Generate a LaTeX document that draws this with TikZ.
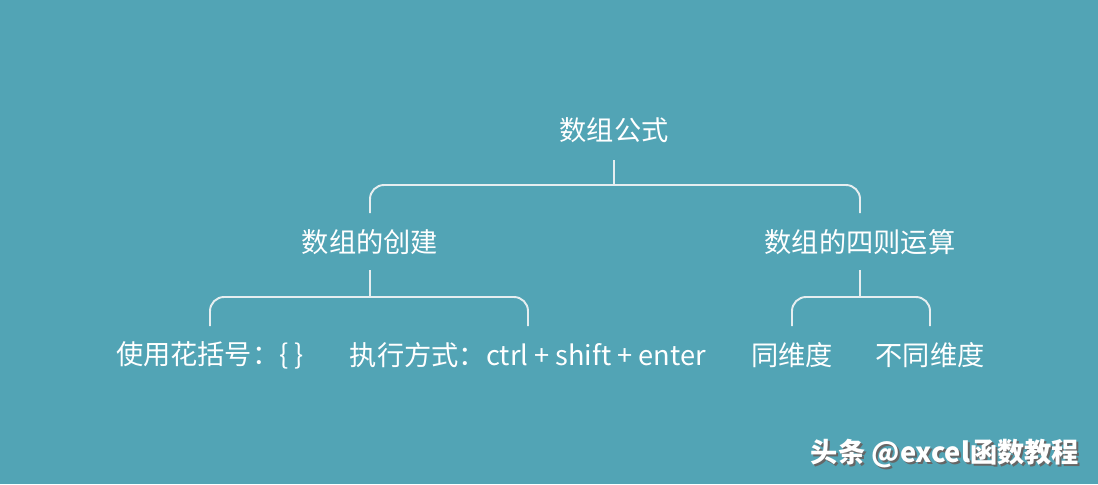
\documentclass[tikz,border=0pt]{standalone}
\usepackage{fontspec}
\setmainfont{Noto Sans CJK SC}
\definecolor{bg}{HTML}{52A4B5}
\definecolor{ln}{HTML}{E6EEF0}
\begin{document}
\begin{tikzpicture}[x=0.02cm,y=-0.02cm,
  lbl/.style={text=white,font=\fontsize{15.5pt}{17pt}\selectfont,inner sep=0pt},
  conn/.style={draw=ln,line width=1.1pt,rounded corners=8pt}]
\fill[bg] (0,0) rectangle (1098,484);
\useasboundingbox (0,0) rectangle (1098,484);
\node[lbl] (root) at (614,130) {数组公式};
\node[lbl] (a) at (370,242) {数组的创建};
\node[lbl] (b) at (860,242) {数组的四则运算};
\node[lbl] (a1) at (210,355) {使用花括号：\{ \}};
\node[lbl] (a2) at (528,355) {执行方式：ctrl + shift + enter};
\node[lbl] (b1) at (792,355) {同维度};
\node[lbl] (b2) at (930,355) {不同维度};
\coordinate (rj) at (614,185);
\coordinate (aj) at (370,297);
\coordinate (bj) at (860,297);
\draw[conn] (614,160) -- (rj);
\draw[conn] (370,213) -- (370,185) -- (860,185) -- (860,213);
\draw[conn] (a.south|-0,270) -- (aj);
\draw[conn] (210,326) -- (210,297) -- (528,297) -- (528,326);
\draw[conn] (b.south|-0,270) -- (bj);
\draw[conn] (792,326) -- (792,297) -- (930,297) -- (930,326);
\node[text=black!60,font=\fontsize{15.5pt}{17pt}\selectfont\bfseries,inner sep=0pt] at (947,456) {头条 @excel函数教程};
\node[text=white,font=\fontsize{15.5pt}{17pt}\selectfont\bfseries,inner sep=0pt] (wm) at (945,454) {头条 @excel函数教程};
\end{tikzpicture}
\end{document}
